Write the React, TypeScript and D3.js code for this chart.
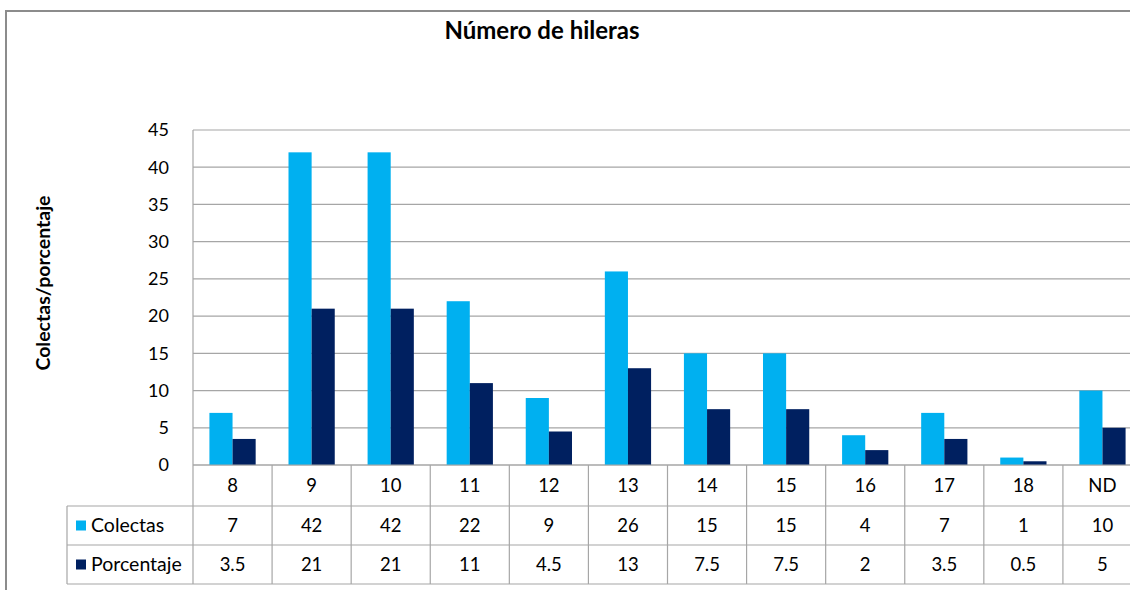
import React from "react";
import * as d3 from "d3";

const categories = ["8", "9", "10", "11", "12", "13", "14", "15", "16", "17", "18", "ND"];
const colectas = [7, 42, 42, 22, 9, 26, 15, 15, 4, 7, 1, 10];
const porcentaje = [3.5, 21, 21, 11, 4.5, 13, 7.5, 7.5, 2, 3.5, 0.5, 5];
const seriesNames = ["Colectas", "Porcentaje"];
const seriesColors = ["#00B0F0", "#002060"];
const yTicks = [0, 5, 10, 15, 20, 25, 30, 35, 40, 45];
const title = "Número de hileras";
const yLabel = "Colectas/porcentaje";

const FONT = "Lato, 'Liberation Sans', sans-serif";

export default function App() {
  const W = 1130, H = 590;
  const plotL = 193, plotR = 1142, plotT = 130, plotB = 465;
  const row1 = 506, row2 = 545, row3 = 584;
  const tableL = 67;
  const grid = "#a6a6a6";

  const x0 = d3.scaleBand<string>().domain(categories).range([plotL, plotR]);
  const x1 = d3.scaleBand<string>().domain(seriesNames).range([0, x0.bandwidth()]).paddingOuter(0.71);
  const y = d3.scaleLinear().domain([0, 45]).range([plotB, plotT]);
  const values = [colectas, porcentaje];

  const fmt = (v: number) => String(v);

  return (
    <svg width={W} height={H} style={{ position: "absolute", left: 0, top: 0 }} fontFamily={FONT}>
      <rect x={0} y={0} width={W} height={H} fill="#fff" />
      {/* chart frame */}
      <line x1={6} y1={11} x2={W + 10} y2={11} stroke="#8c8c8c" strokeWidth={2} />
      <line x1={6} y1={10} x2={6} y2={H + 10} stroke="#8c8c8c" strokeWidth={2} />

      <text x={542} y={39} textAnchor="middle" fontSize={24} fontWeight="bold" fill="#000">{title}</text>
      <text transform={`translate(50,283) rotate(-90)`} textAnchor="middle" fontSize={19.5} fontWeight="bold" fill="#000">{yLabel}</text>

      {/* gridlines */}
      {yTicks.map((t) => (
        <line key={t} x1={plotL} x2={plotR} y1={y(t)} y2={y(t)} stroke={grid} strokeWidth={1.2} />
      ))}
      {yTicks.map((t) => (
        <text key={"l" + t} x={169} y={y(t)} dy="0.35em" textAnchor="end" fontSize={18} fill="#000">{t}</text>
      ))}

      {/* bars */}
      {categories.map((c, i) => (
        <g key={c}>
          {seriesNames.map((s, j) => (
            <rect
              key={s}
              x={(x0(c) as number) + (x1(s) as number)}
              y={y(values[j][i])}
              width={x1.bandwidth()}
              height={plotB - y(values[j][i])}
              fill={seriesColors[j]}
            />
          ))}
        </g>
      ))}

      {/* plot left border */}
      <line x1={plotL} x2={plotL} y1={plotT} y2={row3} stroke={grid} strokeWidth={1.2} />

      {/* table lines */}
      <line x1={plotL} x2={plotR} y1={plotB} y2={plotB} stroke={grid} strokeWidth={1.2} />
      {[row1, row2, row3].map((r) => (
        <line key={r} x1={tableL} x2={plotR} y1={r} y2={r} stroke={grid} strokeWidth={1.2} />
      ))}
      <line x1={tableL} x2={tableL} y1={row1} y2={row3} stroke={grid} strokeWidth={1.2} />
      {categories.map((c) => (
        <line key={"v" + c} x1={(x0(c) as number) + x0.bandwidth()} x2={(x0(c) as number) + x0.bandwidth()} y1={plotB} y2={row3} stroke={grid} strokeWidth={1.2} />
      ))}

      {/* table text */}
      {categories.map((c, i) => {
        const cx = (x0(c) as number) + x0.bandwidth() / 2;
        return (
          <g key={"t" + c} fontSize={18.5} fill="#000" textAnchor="middle">
            <text x={cx} y={(plotB + row1) / 2} dy="0.35em">{c}</text>
            <text x={cx} y={(row1 + row2) / 2} dy="0.35em">{fmt(colectas[i])}</text>
            <text x={cx} y={(row2 + row3) / 2} dy="0.35em">{fmt(porcentaje[i])}</text>
          </g>
        );
      })}

      {/* legend keys */}
      {seriesNames.map((s, j) => {
        const cy = j === 0 ? (row1 + row2) / 2 : (row2 + row3) / 2;
        return (
          <g key={"k" + s}>
            <rect x={76} y={cy - 5} width={10} height={10} fill={seriesColors[j]} />
            <text x={91} y={cy} dy="0.35em" fontSize={19.5} fill="#000">{s}</text>
          </g>
        );
      })}
    </svg>
  );
}
